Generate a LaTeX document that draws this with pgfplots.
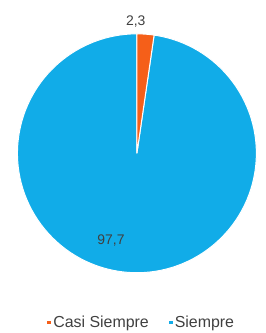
\documentclass[border=0pt]{standalone}
\usepackage{pgfplots}
\usepackage{pgfplotstable}
\pgfplotsset{compat=1.18}
\usepackage{fontspec}
\setmainfont{Liberation Sans}
\definecolor{orangec}{RGB}{245,95,25}
\definecolor{bluec}{RGB}{17,172,232}
\definecolor{labc}{RGB}{64,64,64}

\pgfplotstableread[col sep=comma]{
label,value
Casi Siempre,2.3
Siempre,97.7
}\piedata

\begin{document}
\pgfplotstablegetelem{0}{value}\of\piedata \let\va\pgfplotsretval
\pgfplotstablegetelem{1}{value}\of\piedata \let\vb\pgfplotsretval
\pgfmathsetmacro{\aend}{90-3.6*\va}
\pgfmathsetmacro{\bend}{\aend-3.6*\vb}
\begin{tikzpicture}
\begin{axis}[x=120pt, y=120pt, hide axis, clip=false,
  xmin=-1.1, xmax=1.0, ymin=-1.4917, ymax=1.2833,
  legend columns=2,
  legend style={draw=none, fill=none, at={(axis cs:0.04,-1.417)}, anchor=center,
    font=\fontsize{16}{18}\selectfont, text=labc,
    /tikz/every odd column/.append style={column sep=0pt}},
  legend image code/.code={\fill[#1] (0pt,-2pt) rectangle (4pt,2pt);}]
\path (rel axis cs:0,0) rectangle (rel axis cs:1,1);
\fill[bluec, draw=white, line width=1pt] (axis cs:0,0) -- ++(\aend:120pt) arc[start angle=\aend, end angle=\bend, radius=120pt] -- cycle;
\fill[orangec, draw=white, line width=1pt] (axis cs:0,0) -- ++(90:120pt) arc[start angle=90, end angle=\aend, radius=120pt] -- cycle;
\node[text=labc, font=\fontsize{14}{16}\selectfont] at (axis cs:-0.01,1.10) {2,3};
\node[text=labc, font=\fontsize{14}{16}\selectfont] at (axis cs:-0.217,-0.733) {97,7};
\addlegendimage{fill=orangec, draw=none}
\addlegendentry{Casi Siempre\hspace*{18pt}}
\addlegendimage{fill=bluec, draw=none}
\addlegendentry{Siempre}
\end{axis}
\end{tikzpicture}
\end{document}
